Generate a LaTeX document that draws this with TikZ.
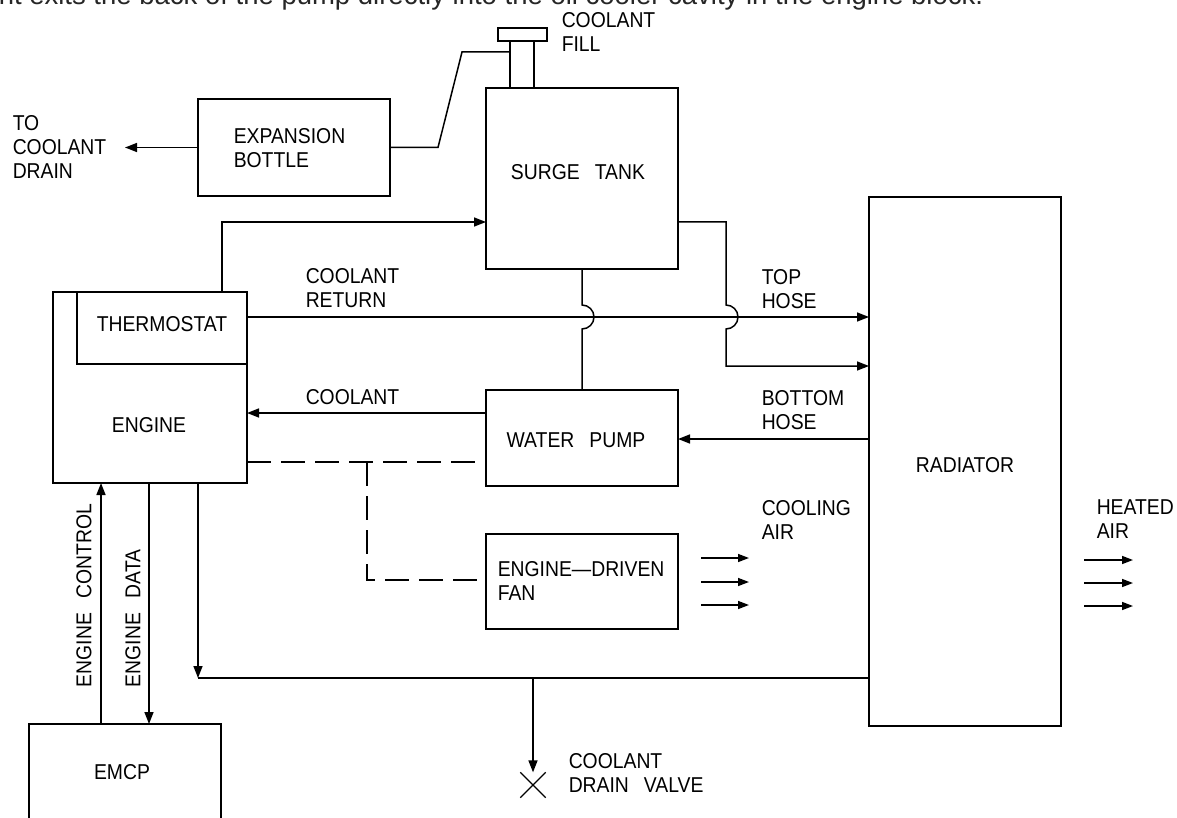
\documentclass[tikz,border=0pt]{standalone}
\usepackage{fontspec}
\setmainfont[FakeStretch=0.9]{Liberation Sans}
\newfontfamily\capfont{Liberation Sans}
\usetikzlibrary{arrows.meta,shapes.misc}
\begin{document}
\begin{tikzpicture}[x=1pt,y=1pt,line width=1.5pt,
  box/.style={draw, rectangle, inner sep=0pt, outer sep=0pt},
  lbl/.style={inner sep=0pt, font=\fontsize{21.5}{24}\selectfont, align=left},
  arr/.style={-{Triangle[length=12pt,width=9pt]}},
  airarr/.style={-{Triangle[length=11pt,width=8pt]}},
  dsh/.style={dash pattern=on 24pt off 10pt}]
\useasboundingbox (0,0) rectangle (1177,-818);
\clip (0,0) rectangle (1177,-818);
\fill[white] (0,0) rectangle (1177,-818);

% cropped caption line at top
\node[anchor=base west, inner sep=0pt, font=\capfont\fontsize{27.5}{30}\selectfont, text=black!85] (captxt) at (-2,-5) {nt exits the back of the pump directly into the oil cooler cavity in the engine block.};

% boxes
\node[box, minimum width=192pt, minimum height=97pt] (exp) at (294,-147.5) {};
\node[box, minimum width=192pt, minimum height=181pt] (surge) at (582,-178.5) {};
\node[box, minimum width=24pt, minimum height=47pt] (neck) at (522,-64.5) {};
\node[box, minimum width=49pt, minimum height=13pt] (fillcap) at (522.5,-34.5) {};
\node[box, minimum width=194pt, minimum height=191pt] (engine) at (150,-387.5) {};
\node[box, minimum width=170pt, minimum height=72pt] (thermo) at (162,-328) {};
\node[box, minimum width=192pt, minimum height=96pt] (pump) at (582,-438) {};
\node[box, minimum width=192pt, minimum height=95pt] (fan) at (582,-581.5) {};
\node[box, minimum width=192pt, minimum height=529pt] (rad) at (965,-461.5) {};
\node[box, minimum width=192pt, minimum height=96pt] (emcp) at (125,-772) {};
\node[draw, cross out, inner sep=0pt, minimum size=24pt, line width=1.3pt] (valve) at (533,-785) {};

% labels
\node[lbl, anchor=west] (ltodrain) at (12,-147) {TO\\COOLANT\\DRAIN};
\node[lbl, anchor=west] (lexp) at (233,-148.5) {EXPANSION\\BOTTLE};
\node[lbl] (lsurge) at (578,-172) {SURGE\hspace{0.7em}TANK};
\node[lbl, anchor=west] (lfill) at (561,-31.5) {COOLANT\\FILL};
\node[lbl, anchor=west] (lret) at (305,-288) {COOLANT\\RETURN};
\node[lbl] (lthermo) at (162,-324) {THERMOSTAT};
\node[lbl] (lengine) at (149,-425) {ENGINE};
\node[lbl, anchor=west] (lcool) at (305,-397) {COOLANT};
\node[lbl] (lpump) at (576,-440) {WATER\hspace{0.7em}PUMP};
\node[lbl, anchor=west] (ltop) at (761,-289.5) {TOP\\HOSE};
\node[lbl, anchor=west] (lbot) at (761,-410.5) {BOTTOM\\HOSE};
\node[lbl] (lrad) at (965,-465) {RADIATOR};
\node[lbl, anchor=west] (lcair) at (761,-519.5) {COOLING\\AIR};
\node[lbl, anchor=west] (lhair) at (1096,-519.5) {HEATED\\AIR};
\node[lbl, anchor=west] (lfan) at (497,-580.5) {ENGINE---DRIVEN\\FAN};
\node[lbl] (lemcp) at (122,-772) {EMCP};
\node[lbl, anchor=west] (lvalve) at (568,-773) {COOLANT\\DRAIN\hspace{0.7em}VALVE};
\node[lbl, rotate=90, anchor=west] (lctl) at (84,-688) {ENGINE\hspace{0.7em}CONTROL};
\node[lbl, rotate=90, anchor=west] (ldat) at (133,-688) {ENGINE\hspace{0.7em}DATA};

% connectors
\coordinate (drainend) at (125,-147.5);
\draw[arr] (exp.west) -- (drainend);
\draw (exp.east) -- (438,-147.5) -- (462,-52) -- (neck.west |- 0,-52);
\draw[arr] (engine.north -| 222,0) -- (222,-222) -- (surge.west |- 0,-222);
\draw[arr] (surge.east |- 0,-222) -- (726,-222) -- (726,-305)
   arc[start angle=90, end angle=-90, radius=12] -- (726,-366) -- (rad.west |- 0,-366);
\draw[arr] (thermo.east |- 0,-317) -- (rad.west |- 0,-317);
\draw (surge.south) -- (582,-305) arc[start angle=90, end angle=-90, radius=12] -- (pump.north);
\draw[arr] (pump.west |- 0,-413) -- (engine.east |- 0,-413);
\draw[arr] (rad.west |- 0,-439) -- (pump.east |- 0,-439);
\draw[dsh] (engine.east |- 0,-462) -- (pump.west |- 0,-462);
\draw[dsh] (367,-462) -- (367,-580) -- (fan.west |- 0,-580);
\foreach \yy in {558,582,605} \draw[airarr] (701,-\yy) -- (749,-\yy);
\foreach \yy in {560,583,606} \draw[airarr] (1084,-\yy) -- (1133,-\yy);
\draw[arr] (emcp.north -| 101,0) -- (engine.south -| 101,0);
\draw[arr] (engine.south -| 149,0) -- (emcp.north -| 149,0);
\draw[arr] (engine.south -| 198,0) -- (198,-678);
\draw (rad.west |- 0,-678) -- (198,-678);
\draw[arr] (valve.north |- 0,-678) -- (valve.north);
\end{tikzpicture}
\end{document}
